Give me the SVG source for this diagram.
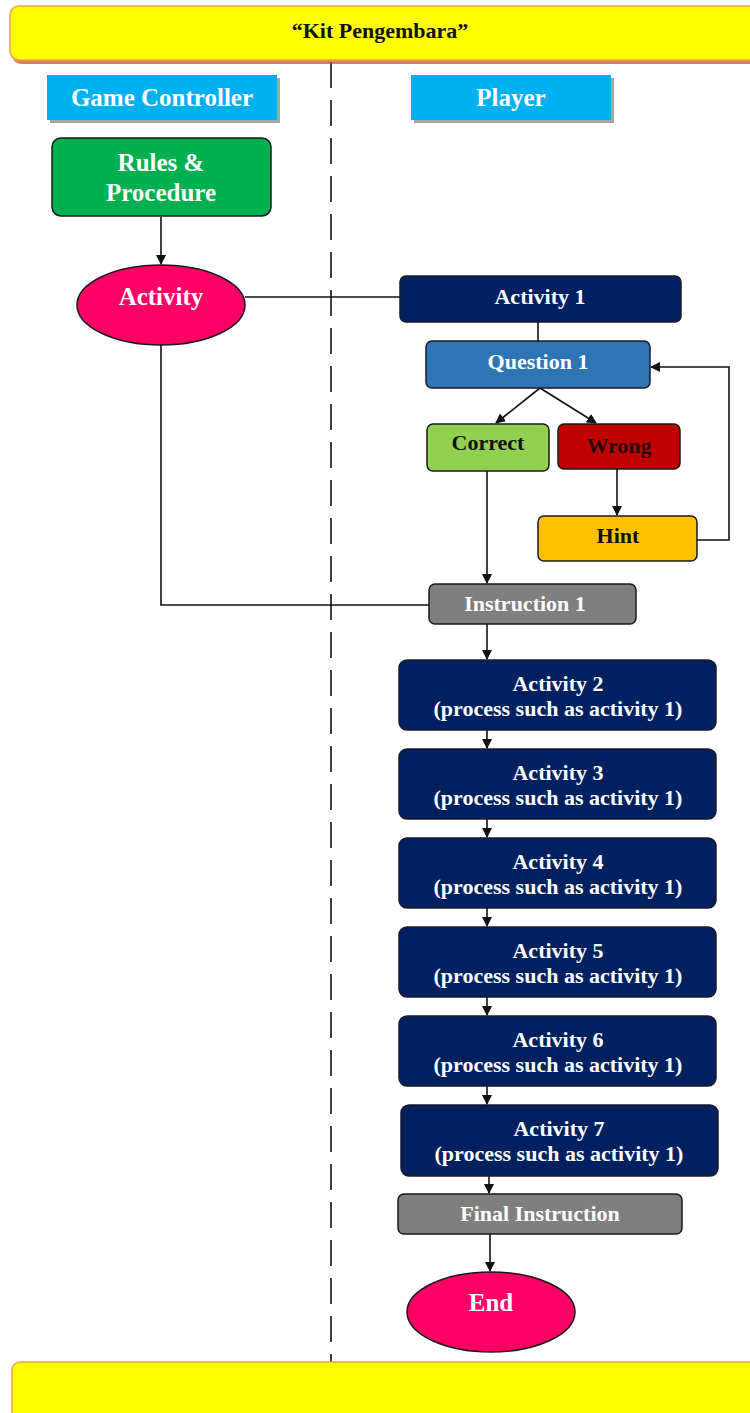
<svg xmlns="http://www.w3.org/2000/svg" width="750" height="1413" viewBox="0 0 750 1413">
<style>
.t{font-family:"Liberation Serif","Times New Roman",serif;font-weight:bold;font-size:22px;text-anchor:middle}
.b{font-size:25px}
.w{fill:#ffffff}
.k{fill:#111111}
.nb{fill:#002060;stroke:#1a1a2e;stroke-width:1.5}
.ln{stroke:#111;stroke-width:1.6;fill:none}
</style>
<defs>
<marker id="ah" markerWidth="10" markerHeight="10" refX="9" refY="5" orient="auto" markerUnits="userSpaceOnUse">
<path d="M0,0 L10,5 L0,10 z" fill="#111"/>
</marker>
</defs>
<rect width="750" height="1413" fill="#ffffff"/>

<g id="lane-divider">
<line x1="331" y1="62" x2="331" y2="1362" stroke="#111" stroke-width="1.6" stroke-dasharray="26,12"/>
</g>

<g id="title">
<rect x="12" y="10" width="750" height="54" rx="9" fill="#C0501A" opacity="0.7"/>
<rect x="10" y="6" width="752" height="54" rx="9" fill="#FFFF00" stroke="#F0A050" stroke-width="1.5"/>
<text class="t k" x="380" y="38" font-size="23.5">“Kit Pengembara”</text>
</g>

<g id="lane-gc">
<rect x="50" y="78" width="230" height="45" fill="#A6A6A6"/>
<rect x="47" y="75" width="230" height="45" fill="#00B0F0"/>
<text class="t w b" x="162" y="106">Game Controller</text>
</g>
<g id="lane-player">
<rect x="414" y="78" width="200" height="45" fill="#A6A6A6"/>
<rect x="411" y="75" width="200" height="45" fill="#00B0F0"/>
<text class="t w b" x="511" y="106">Player</text>
</g>

<g id="connectors">
<line class="ln" x1="161" y1="217" x2="161" y2="264" marker-end="url(#ah)"/>
<line class="ln" x1="245" y1="297" x2="400" y2="297"/>
<line class="ln" x1="538" y1="322" x2="538" y2="341"/>
<line class="ln" x1="540" y1="388" x2="496" y2="423" marker-end="url(#ah)"/>
<line class="ln" x1="540" y1="388" x2="596" y2="423" marker-end="url(#ah)"/>
<line class="ln" x1="617" y1="469" x2="617" y2="515" marker-end="url(#ah)"/>
<polyline class="ln" points="697,540 729,540 729,367 651,367" marker-end="url(#ah)"/>
<line class="ln" x1="487" y1="471" x2="487" y2="583" marker-end="url(#ah)"/>
<polyline class="ln" points="161,345 161,605 429,605"/>
<line class="ln" x1="487" y1="624" x2="487" y2="659" marker-end="url(#ah)"/>
<line class="ln" x1="487" y1="730" x2="487" y2="748" marker-end="url(#ah)"/>
<line class="ln" x1="487" y1="819" x2="487" y2="837" marker-end="url(#ah)"/>
<line class="ln" x1="487" y1="908" x2="487" y2="926" marker-end="url(#ah)"/>
<line class="ln" x1="487" y1="997" x2="487" y2="1015" marker-end="url(#ah)"/>
<line class="ln" x1="487" y1="1086" x2="487" y2="1104" marker-end="url(#ah)"/>
<line class="ln" x1="489" y1="1176" x2="489" y2="1193" marker-end="url(#ah)"/>
<line class="ln" x1="490" y1="1234" x2="490" y2="1271" marker-end="url(#ah)"/>
</g>

<g id="rules">
<rect x="52" y="138" width="219" height="78" rx="9" fill="#00B050" stroke="#1a1a1a" stroke-width="1.5"/>
<text class="t w b" x="161" y="171">Rules &amp;</text>
<text class="t w b" x="161" y="201">Procedure</text>
</g>

<g id="activity">
<ellipse cx="161" cy="305" rx="84" ry="40" fill="#FF0066" stroke="#1a1a1a" stroke-width="1.5"/>
<text class="t w b" x="161" y="305">Activity</text>
</g>

<g id="activity1">
<rect class="nb" x="400" y="276" width="281" height="46" rx="6"/>
<text class="t w" x="540" y="304">Activity 1</text>
</g>

<g id="question1">
<rect x="426" y="341" width="224" height="47" rx="6" fill="#2E75B6" stroke="#1a1a2e" stroke-width="1.5"/>
<text class="t w" x="538" y="369">Question 1</text>
</g>

<g id="correct">
<rect x="427" y="424" width="122" height="47" rx="6" fill="#92D050" stroke="#1a1a1a" stroke-width="1.5"/>
<text class="t k" x="488" y="450">Correct</text>
</g>

<g id="wrong">
<rect x="558" y="424" width="122" height="45" rx="6" fill="#C00000" stroke="#1a1a1a" stroke-width="1.5"/>
<text class="t" x="619" y="453" fill="#2a0a0a">Wrong</text>
</g>

<g id="hint">
<rect x="538" y="516" width="159" height="45" rx="6" fill="#FFC000" stroke="#1a1a1a" stroke-width="1.5"/>
<text class="t k" x="618" y="543">Hint</text>
</g>

<g id="instruction1">
<rect x="429" y="584" width="207" height="40" rx="6" fill="#7F7F7F" stroke="#1a1a1a" stroke-width="1.5"/>
<text class="t w" x="525" y="611" font-size="20">Instruction 1</text>
</g>

<g id="activity2">
<rect class="nb" x="399" y="660" width="317" height="70" rx="8"/>
<text class="t w" x="558" y="691">Activity 2</text>
<text class="t w" x="558" y="716">(process such as activity 1)</text>
</g>
<g id="activity3">
<rect class="nb" x="399" y="749" width="317" height="70" rx="8"/>
<text class="t w" x="558" y="780">Activity 3</text>
<text class="t w" x="558" y="805">(process such as activity 1)</text>
</g>
<g id="activity4">
<rect class="nb" x="399" y="838" width="317" height="70" rx="8"/>
<text class="t w" x="558" y="869">Activity 4</text>
<text class="t w" x="558" y="894">(process such as activity 1)</text>
</g>
<g id="activity5">
<rect class="nb" x="399" y="927" width="317" height="70" rx="8"/>
<text class="t w" x="558" y="958">Activity 5</text>
<text class="t w" x="558" y="983">(process such as activity 1)</text>
</g>
<g id="activity6">
<rect class="nb" x="399" y="1016" width="317" height="70" rx="8"/>
<text class="t w" x="558" y="1047">Activity 6</text>
<text class="t w" x="558" y="1072">(process such as activity 1)</text>
</g>
<g id="activity7">
<rect class="nb" x="401" y="1105" width="317" height="71" rx="8"/>
<text class="t w" x="559" y="1136">Activity 7</text>
<text class="t w" x="559" y="1161">(process such as activity 1)</text>
</g>

<g id="final-instruction">
<rect x="398" y="1194" width="284" height="40" rx="6" fill="#7F7F7F" stroke="#1a1a1a" stroke-width="1.5"/>
<text class="t w" x="540" y="1221">Final Instruction</text>
</g>

<g id="end">
<ellipse cx="491" cy="1312" rx="84" ry="40" fill="#FF0066" stroke="#1a1a1a" stroke-width="1.5"/>
<text class="t w b" x="491" y="1311">End</text>
</g>

<g id="footer">
<rect x="12" y="1362" width="760" height="70" rx="8" fill="#FFFF00" stroke="#F0A050" stroke-width="1.5"/>
</g>
</svg>
